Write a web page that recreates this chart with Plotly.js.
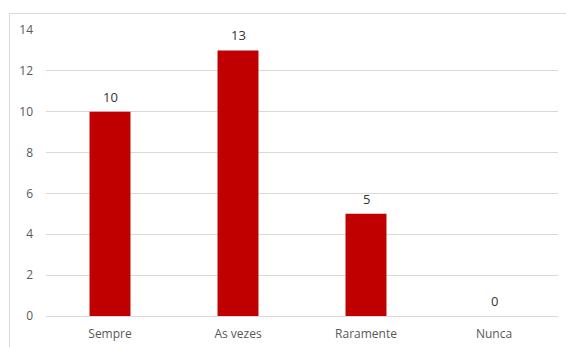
<!DOCTYPE html>
<html><head><meta charset="utf-8">
<script src="https://cdn.plot.ly/plotly-3.0.1.min.js"></script>
<style>html,body{margin:0;padding:0;background:#fff}#c{width:566px;height:347px}</style>
</head><body><div id="c"></div>
<script>
const categories = ["Sempre", "As vezes", "Raramente", "Nunca"];
const values = [10, 13, 5, 0];
const yTicks = [0, 2, 4, 6, 8, 10, 12, 14];

const trace = {
  type: 'bar',
  x: categories,
  y: values,
  marker: {color: '#C00000'},
  hoverinfo: 'none'
};

const labels = categories.map((c, i) => ({
  x: c, y: values[i], xref: 'x', yref: 'y',
  text: String(values[i]), showarrow: false,
  yanchor: 'middle', yshift: 15,
  font: {family: 'Open Sans, sans-serif', size: 13, color: '#333333'}
}));

const layout = {
  width: 566, height: 347,
  margin: {l: 46, r: 8, t: 30, b: 31},
  paper_bgcolor: '#fff', plot_bgcolor: '#fff',
  bargap: 0.68,
  showlegend: false,
  font: {family: 'Open Sans, sans-serif', size: 12, color: '#595959'},
  xaxis: {
    showgrid: false, showline: false, zeroline: false, ticks: '',
    tickfont: {size: 12, color: '#595959'}, ticklabelstandoff: 9
  },
  yaxis: {
    range: [0, 14], tickvals: yTicks, ticktext: yTicks.map(String),
    showgrid: true, gridcolor: '#d9d9d9', gridwidth: 1,
    zeroline: true, zerolinecolor: '#d9d9d9', zerolinewidth: 1,
    showline: false, ticks: '',
    tickfont: {size: 12, color: '#595959'}, ticklabelstandoff: 12
  },
  annotations: labels,
  shapes: [{
    type: 'rect', xref: 'paper', yref: 'paper',
    x0: -0.0713, x1: 1.2, y0: -0.2, y1: 1.0577,
    line: {color: '#d9d9d9', width: 1}, fillcolor: 'rgba(0,0,0,0)', layer: 'below'
  }]
};

Plotly.newPlot('c', [trace], layout, {staticPlot: true, displayModeBar: false});
</script></body></html>
